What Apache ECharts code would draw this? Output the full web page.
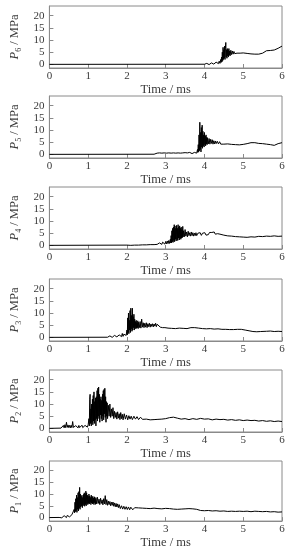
<!DOCTYPE html>
<html>
<head>
<meta charset="utf-8">
<script src="https://cdn.jsdelivr.net/npm/echarts@6/dist/echarts.min.js"></script>
<style>html,body{margin:0;padding:0;background:#fff}#c{width:292px;height:550px}</style>
</head>
<body>
<div id="c"></div>
<script>
var xTicks = [0, 1, 2, 3, 4, 5, 6];
var yTicks = [0, 5, 10, 15, 20];
var panelNames = ['6', '5', '4', '3', '2', '1'];

var p1 = [[0,0],[0.25,0.05],[0.26,0.5],[0.28,-0.2],[0.30,0.6],[0.32,-0.1],[0.34,0.7],[0.36,0.0],[0.38,0.8],[0.40,0.1],[0.42,0.7],[0.44,0.0],[0.46,0.9],[0.48,0.2],[0.50,1.0],[0.52,0.3],[0.54,1.1],[0.56,0.4],[0.58,1.2],[0.60,0.5],[0.62,1.6],
[0.64,3.5],[0.65,2.0],[0.66,6.5],[0.67,2.5],[0.68,8.0],[0.69,3.0],[0.70,9.5],[0.71,2.2],[0.72,8.5],[0.73,3.5],[0.74,10.5],[0.75,2.8],[0.76,11.0],[0.77,4.0],[0.78,12.8],[0.79,3.5],[0.80,10.0],[0.81,4.5],[0.82,9.0],[0.83,5.0],[0.84,9.5],[0.85,4.2],[0.86,8.5],[0.87,5.0],[0.88,9.8],[0.89,5.5],[0.90,10.5],[0.91,4.8],[0.92,10.0],[0.93,5.5],[0.94,11.2],[0.95,5.0],[0.96,10.5],[0.97,6.0],[0.98,9.5],[0.99,5.5],[1.00,9.0],[1.01,6.0],[1.02,10.0],[1.03,5.8],[1.04,9.2],[1.05,6.5],[1.06,8.5],[1.07,5.5],[1.08,9.5],[1.09,6.2],[1.10,8.8],[1.11,5.8],[1.12,9.0],[1.13,6.0],[1.14,8.2],[1.15,5.5],[1.16,8.8],[1.17,6.3],[1.18,8.0],[1.19,5.6],[1.20,8.5],[1.22,5.8],[1.24,8.6],[1.26,6.0],[1.28,7.8],[1.30,5.5],[1.32,8.2],[1.34,6.0],[1.36,7.5],[1.38,5.4],[1.40,8.0],[1.42,5.8],[1.44,9.3],[1.46,5.5],[1.48,7.6],[1.50,5.2],[1.52,7.0],[1.54,5.5],[1.56,6.8],[1.58,5.0],[1.60,6.5],[1.62,5.2],[1.64,6.6],[1.66,4.8],[1.68,6.2],[1.70,4.6],[1.72,6.0],[1.74,4.5],[1.76,5.8],[1.78,4.2],[1.80,5.5],[1.83,3.8],[1.86,5.0],[1.89,3.6],[1.92,4.8],[1.95,3.5],[1.98,4.6],[2.01,3.4],[2.04,4.5],[2.07,3.3],[2.10,4.4],[2.15,3.3],[2.20,4.2],[2.25,3.4],[2.30,4.1],[2.35,3.3],[2.40,4.0],[2.45,3.2],[2.50,3.9],[2.55,3.3],[2.60,3.8],[2.65,3.4],[2.70,4.0],[2.75,3.3],[2.80,3.8],[2.85,3.2],[2.90,3.7],[2.95,3.5],[3.00,3.9],[3.05,3.4],[3.10,3.8],[3.15,3.3],[3.20,3.6],[3.25,3.0],[3.30,3.5],[3.35,3.8],[3.40,3.6],[3.45,3.9],[3.50,3.7],[3.55,4.0],[3.60,3.8],[3.65,3.9],[3.70,3.7],[3.75,3.8],[3.80,3.5],[3.85,3.2],[3.90,3.0],[3.95,3.1],[4.00,2.9],[4.1,3.0],[4.2,2.8],[4.3,2.9],[4.4,2.7],[4.5,2.8],[4.6,2.6],[4.7,2.7],[4.8,2.6],[4.9,2.7],[5.0,2.6],[5.1,2.7],[5.2,2.5],[5.3,2.7],[5.4,2.6],[5.5,2.5],[5.6,2.6],[5.7,2.4],[5.8,2.5],[5.9,2.3],[6.0,2.4]];

var p2 = [[0,0],[0.3,0.1],[0.32,0.8],[0.34,0.0],[0.36,1.2],[0.38,0.2],[0.40,1.5],[0.42,0.3],[0.44,2.5],[0.46,0.4],[0.48,1.4],[0.50,0.3],[0.52,1.2],[0.54,0.2],[0.56,1.3],[0.58,0.3],[0.60,2.8],[0.62,0.4],[0.64,1.2],[0.66,0.2],[0.68,1.1],[0.70,0.3],[0.72,1.4],[0.74,0.2],[0.76,1.2],[0.78,0.3],[0.80,1.1],[0.82,0.2],[0.84,1.3],[0.86,0.3],[0.88,1.0],[0.90,0.2],[0.92,1.2],[0.94,0.4],[0.96,1.3],[0.98,0.5],
[1.00,1.5],[1.01,0.8],[1.02,4.0],[1.03,1.0],[1.04,12.0],[1.05,14.0],[1.06,2.0],[1.07,8.0],[1.08,1.0],[1.09,10.0],[1.10,2.5],[1.11,12.0],[1.12,1.5],[1.13,13.5],[1.14,3.0],[1.15,15.0],[1.16,2.0],[1.17,11.0],[1.18,3.5],[1.19,12.5],[1.20,1.0],[1.21,13.0],[1.22,4.0],[1.23,15.5],[1.24,3.0],[1.25,16.5],[1.26,5.0],[1.27,17.0],[1.28,4.0],[1.29,14.0],[1.30,2.5],[1.31,12.0],[1.32,5.5],[1.33,13.0],[1.34,4.0],[1.35,11.5],[1.36,3.0],[1.37,14.0],[1.38,5.0],[1.39,15.5],[1.40,3.5],[1.41,16.0],[1.42,6.0],[1.43,16.5],[1.44,4.5],[1.45,13.0],[1.46,2.5],[1.47,11.0],[1.48,5.0],[1.49,10.5],[1.50,4.0],[1.52,9.5],[1.54,5.0],[1.56,10.0],[1.58,4.5],[1.60,8.0],[1.62,5.0],[1.64,8.5],[1.66,4.0],[1.68,7.0],[1.70,4.5],[1.72,6.5],[1.74,3.8],[1.76,6.8],[1.78,4.2],[1.80,6.0],[1.82,3.6],[1.84,6.5],[1.86,4.0],[1.88,5.8],[1.90,3.5],[1.93,6.0],[1.96,3.8],[1.99,5.5],[2.02,3.5],[2.05,5.2],[2.08,3.8],[2.11,5.0],[2.14,3.6],[2.18,5.0],[2.22,3.8],[2.26,4.8],[2.30,3.6],[2.35,4.6],[2.40,3.7],[2.45,4.5],[2.50,3.8],[2.55,4.3],[2.60,3.5],[2.65,4.2],[2.70,3.6],[2.75,4.4],[2.80,3.7],[2.85,4.2],[2.90,3.8],[2.95,4.5],[3.00,4.0],[3.05,4.8],[3.10,4.4],[3.15,5.2],[3.20,4.6],[3.25,4.9],[3.30,4.2],[3.35,4.4],[3.40,3.8],[3.5,4.0],[3.6,3.6],[3.7,4.0],[3.8,3.7],[3.9,4.1],[4.0,3.8],[4.1,3.9],[4.2,3.5],[4.3,3.8],[4.4,3.6],[4.5,3.7],[4.6,3.4],[4.7,3.6],[4.8,3.3],[4.9,3.5],[5.0,3.2],[5.1,3.4],[5.2,3.2],[5.3,3.3],[5.4,3.0],[5.5,3.2],[5.6,2.9],[5.7,3.1],[5.8,2.8],[5.9,3.0],[6.0,2.8]];

var p3 = [[0,0],[1.5,0.05],[1.52,0.5],[1.54,-0.1],[1.56,0.6],[1.58,0.0],[1.60,0.7],[1.62,0.0],[1.64,0.6],[1.66,0.1],[1.68,0.8],[1.70,0.1],[1.72,0.7],[1.74,0.2],[1.76,0.9],[1.78,0.2],[1.80,1.0],[1.82,0.3],[1.84,1.1],[1.86,0.3],[1.88,1.6],[1.90,0.4],[1.92,1.3],[1.94,0.5],[1.96,1.5],[1.98,0.8],
[2.00,3.0],[2.01,1.0],[2.02,8.0],[2.03,2.0],[2.04,10.0],[2.05,1.5],[2.06,7.0],[2.07,3.0],[2.08,11.0],[2.09,2.0],[2.10,12.0],[2.11,3.5],[2.12,9.0],[2.13,2.5],[2.14,12.0],[2.15,3.0],[2.16,8.5],[2.17,4.0],[2.18,9.5],[2.19,3.0],[2.20,7.5],[2.21,4.0],[2.22,6.5],[2.23,3.5],[2.24,7.0],[2.25,3.8],[2.26,6.0],[2.27,4.0],[2.28,6.8],[2.29,3.6],[2.30,6.2],[2.32,4.0],[2.34,6.5],[2.36,3.8],[2.38,7.5],[2.40,4.2],[2.42,6.0],[2.44,4.0],[2.46,5.8],[2.48,4.2],[2.50,6.0],[2.52,4.0],[2.54,5.6],[2.56,4.4],[2.58,5.8],[2.60,4.2],[2.62,5.5],[2.64,4.5],[2.66,5.6],[2.68,4.3],[2.70,5.5],[2.72,4.6],[2.74,5.8],[2.76,4.4],[2.78,5.4],[2.80,4.6],[2.83,5.3],[2.86,4.2],[2.89,5.0],[2.92,4.0],[2.95,4.8],[2.98,4.0],[3.02,4.6],[3.06,3.8],[3.10,4.4],[3.15,3.7],[3.20,4.5],[3.25,3.6],[3.30,4.3],[3.35,3.8],[3.40,4.4],[3.45,3.7],[3.50,4.2],[3.55,3.6],[3.60,4.4],[3.65,4.0],[3.70,4.6],[3.75,4.0],[3.80,4.3],[3.85,3.8],[3.90,4.2],[3.95,3.6],[4.00,4.0],[4.05,3.5],[4.10,4.1],[4.15,3.6],[4.20,4.0],[4.25,3.4],[4.30,3.9],[4.35,3.5],[4.40,3.8],[4.45,3.3],[4.50,3.7],[4.55,3.3],[4.60,3.6],[4.65,3.2],[4.70,3.6],[4.75,3.2],[4.80,3.5],[4.85,3.3],[4.90,3.6],[4.95,3.3],[5.00,3.4],[5.05,3.0],[5.10,3.1],[5.15,2.7],[5.20,2.8],[5.25,2.4],[5.30,2.5],[5.35,2.3],[5.40,2.6],[5.45,2.4],[5.50,2.7],[5.6,2.5],[5.7,2.6],[5.8,2.4],[5.9,2.5],[6.0,2.4]];

var p4 = [[0,0],[1.0,0.05],[2.0,0.1],[2.05,0.4],[2.10,0.0],[2.15,0.4],[2.20,0.1],[2.25,0.5],[2.30,0.1],[2.35,0.5],[2.40,0.2],[2.45,0.5],[2.50,0.2],[2.55,0.6],[2.60,0.3],[2.65,0.7],[2.70,0.3],[2.75,0.8],[2.78,0.4],[2.80,0.9],[2.82,0.3],[2.84,1.0],[2.86,0.4],[2.88,1.1],[2.90,0.4],[2.92,1.3],[2.94,0.5],[2.96,1.5],[2.98,0.5],[3.00,1.6],[3.02,0.6],[3.04,1.8],[3.06,0.7],[3.08,2.0],[3.10,0.8],[3.12,2.5],[3.13,1.0],[3.14,4.0],[3.15,1.0],[3.16,6.0],[3.17,1.5],[3.18,7.0],[3.19,1.2],[3.20,7.5],[3.21,2.0],[3.22,8.5],[3.23,1.5],[3.24,8.0],[3.25,2.5],[3.26,7.0],[3.27,1.8],[3.28,8.2],[3.29,2.5],[3.30,7.0],[3.31,2.0],[3.32,8.5],[3.33,3.0],[3.34,7.5],[3.35,2.2],[3.36,8.0],[3.37,3.0],[3.38,7.0],[3.39,2.5],[3.40,7.5],[3.41,3.0],[3.42,6.5],[3.43,3.2],[3.44,7.8],[3.45,3.5],[3.46,6.0],[3.48,3.5],[3.50,6.5],[3.52,3.8],[3.54,5.5],[3.56,3.5],[3.58,5.8],[3.60,4.0],[3.62,5.2],[3.64,3.8],[3.66,5.5],[3.68,4.0],[3.70,5.2],[3.72,3.8],[3.74,5.0],[3.76,4.0],[3.78,5.2],[3.80,4.0],[3.83,5.0],[3.86,4.2],[3.89,5.2],[3.92,4.1],[3.95,5.0],[3.98,4.3],[4.01,5.2],[4.04,4.2],[4.07,5.0],[4.10,4.4],[4.13,5.3],[4.16,4.5],[4.19,5.3],[4.22,4.6],[4.25,5.5],[4.28,4.6],[4.31,5.4],[4.34,4.8],[4.37,5.5],[4.40,4.6],[4.45,4.8],[4.50,4.2],[4.55,4.3],[4.60,3.9],[4.65,4.1],[4.70,3.8],[4.75,3.9],[4.80,3.6],[4.85,3.8],[4.90,3.5],[4.95,3.7],[5.00,3.4],[5.05,3.5],[5.10,3.3],[5.20,3.5],[5.30,3.4],[5.40,3.7],[5.50,3.6],[5.60,3.8],[5.70,3.7],[5.80,3.9],[5.90,3.7],[6.00,3.8]];

var p5 = [[0,0],[2.7,0.05],[2.72,0.4],[2.75,0.0],[2.78,0.5],[2.81,0.0],[2.84,0.6],[2.87,0.1],[2.90,0.5],[2.93,0.0],[2.96,0.6],[2.99,0.1],[3.02,0.5],[3.05,0.0],[3.08,0.6],[3.11,0.1],[3.14,0.5],[3.17,0.0],[3.20,0.6],[3.23,0.1],[3.26,0.5],[3.29,0.1],[3.32,0.6],[3.35,0.0],[3.38,0.5],[3.41,0.1],[3.44,0.6],[3.47,0.1],[3.50,0.7],[3.53,0.1],[3.56,0.6],[3.59,0.2],[3.62,0.8],[3.64,0.2],[3.66,1.6],[3.68,0.3],[3.70,0.7],[3.72,0.2],[3.74,0.8],[3.76,0.3],[3.78,1.0],[3.80,0.5],[3.82,2.0],[3.83,0.8],[3.84,4.0],[3.85,1.0],[3.86,8.0],[3.87,1.5],[3.88,13.2],[3.89,2.0],[3.90,9.0],[3.91,1.0],[3.92,11.0],[3.93,3.0],[3.94,12.0],[3.95,2.5],[3.96,9.5],[3.97,3.5],[3.98,8.0],[3.99,3.0],[4.00,9.0],[4.01,4.0],[4.02,7.5],[4.03,3.5],[4.04,8.0],[4.05,4.2],[4.06,7.0],[4.07,4.0],[4.08,6.8],[4.10,4.3],[4.12,6.5],[4.14,4.2],[4.16,6.2],[4.18,4.5],[4.20,6.0],[4.22,4.2],[4.24,5.6],[4.26,4.3],[4.28,5.5],[4.30,4.4],[4.33,5.4],[4.36,4.3],[4.39,5.2],[4.42,4.2],[4.45,5.0],[4.50,4.2],[4.55,4.8],[4.60,4.3],[4.65,4.6],[4.70,4.1],[4.75,4.5],[4.80,4.0],[4.85,4.3],[4.90,3.9],[4.95,4.2],[5.00,4.1],[5.05,4.3],[5.10,4.4],[5.15,4.6],[5.20,4.8],[5.25,5.0],[5.30,4.8],[5.35,4.7],[5.40,4.5],[5.45,4.6],[5.50,4.4],[5.55,4.3],[5.60,4.2],[5.65,4.1],[5.70,4.0],[5.75,3.8],[5.80,3.7],[5.85,4.1],[5.90,4.4],[5.95,4.6],[6.00,4.8]];

var p6 = [[0,0],[4.0,0.05],[4.02,0.3],[4.04,0.0],[4.06,0.4],[4.08,0.0],[4.10,0.5],[4.12,-0.1],[4.14,0.5],[4.16,0.0],[4.18,0.6],[4.20,0.0],[4.22,0.7],[4.24,0.1],[4.26,0.8],[4.28,0.1],[4.30,0.9],[4.32,0.2],[4.34,1.0],[4.36,0.3],[4.38,1.3],[4.40,0.4],[4.42,2.0],[4.43,0.8],[4.44,3.0],[4.45,1.0],[4.46,5.0],[4.47,1.5],[4.48,7.0],[4.49,2.0],[4.50,6.0],[4.51,2.5],[4.52,7.5],[4.53,2.0],[4.54,6.5],[4.55,9.0],[4.56,3.0],[4.57,6.0],[4.58,2.5],[4.59,6.5],[4.60,3.5],[4.61,6.0],[4.62,3.0],[4.63,6.5],[4.64,3.8],[4.65,5.5],[4.66,3.5],[4.68,5.8],[4.70,4.0],[4.72,5.5],[4.74,4.2],[4.76,5.3],[4.78,4.4],[4.80,5.0],[4.84,4.6],[4.88,5.0],[4.92,4.6],[4.96,5.0],[5.00,4.7],[5.05,4.9],[5.10,4.5],[5.15,4.7],[5.20,4.3],[5.25,4.5],[5.30,4.2],[5.35,4.4],[5.40,4.2],[5.45,4.5],[5.50,4.6],[5.55,5.3],[5.60,5.6],[5.65,5.5],[5.70,5.7],[5.75,5.8],[5.80,5.9],[5.85,6.2],[5.90,6.6],[5.95,7.0],[6.00,7.5]];

var panelData = [p6, p5, p4, p3, p2, p1];
var panelTops = [6, 96, 187, 279, 370, 461];

var FONT = '"Liberation Serif", "Times New Roman", serif';
var frameColor = '#8a8a8a';
var textColor = '#3a3a3a';

var grids = [], xAxes = [], yAxes = [], series = [];
for (var i = 0; i < 6; i++) {
  grids.push({left: 38, right: 10, top: panelTops[i], height: 62, show: true, borderColor: frameColor, borderWidth: 1, backgroundColor: 'transparent'});
  xAxes.push({
    type: 'value', gridIndex: i, min: 0, max: 6, interval: 1,
    axisLine: {show: true, onZero: false, lineStyle: {color: frameColor, width: 1}},
    axisTick: {show: true, inside: true, length: 4, lineStyle: {color: frameColor}, customValues: xTicks},
    axisLabel: {color: textColor, fontFamily: FONT, fontSize: 11, margin: 3, customValues: xTicks},
    splitLine: {show: false},
    name: 'Time / ms', nameLocation: 'middle', nameGap: 12,
    nameTextStyle: {color: textColor, fontFamily: FONT, fontSize: 12.5}
  });
  yAxes.push({
    type: 'value', gridIndex: i, min: -1.5, max: 24,
    axisLine: {show: true, lineStyle: {color: frameColor, width: 1}},
    axisTick: {show: true, inside: true, length: 4, lineStyle: {color: frameColor}, customValues: yTicks},
    axisLabel: {color: textColor, fontFamily: FONT, fontSize: 11, margin: 5, customValues: yTicks},
    splitLine: {show: false},
    name: '{i|P}{s|' + panelNames[i] + '}{n| / MPa}',
    nameLocation: 'middle', nameGap: 19,
    nameTextStyle: {
      color: textColor, fontFamily: FONT, fontSize: 12.5,
      rich: {
        i: {fontStyle: 'italic', fontFamily: FONT, fontSize: 12.5, color: textColor, lineHeight: 16, verticalAlign: 'middle'},
        s: {fontFamily: FONT, fontSize: 8, color: textColor, lineHeight: 16, verticalAlign: 'bottom'},
        n: {fontFamily: FONT, fontSize: 12.5, color: textColor, lineHeight: 16, verticalAlign: 'middle'}
      }
    }
  });
  series.push({
    type: 'line', xAxisIndex: i, yAxisIndex: i, data: panelData[i],
    showSymbol: false, symbol: 'none', sampling: null,
    lineStyle: {color: '#000', width: 1},
    silent: true, clip: true
  });
}

var chart = echarts.init(document.getElementById('c'), null, {renderer: 'canvas'});
chart.setOption({
  animation: false,
  backgroundColor: '#fff',
  grid: grids, xAxis: xAxes, yAxis: yAxes, series: series
});
</script>
</body>
</html>
